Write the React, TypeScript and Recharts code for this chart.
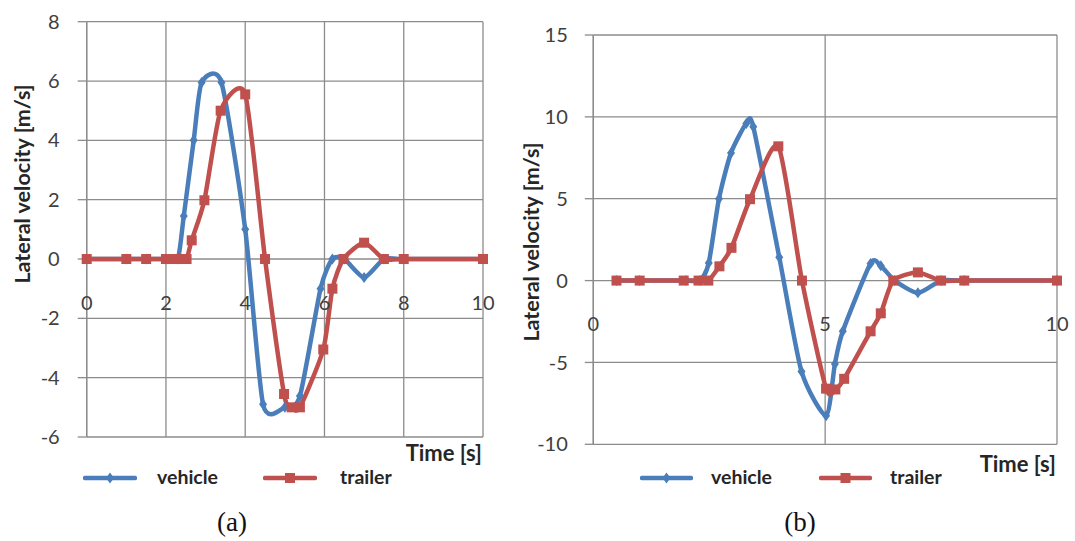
import React from 'react';
import { LineChart, Line, XAxis, YAxis, CartesianGrid, Legend } from 'recharts';

// panel (a)
const timeVehicleA = [0, 1, 1.5, 2, 2.3, 2.45, 2.7, 2.9, 3.4, 4, 4.45, 5, 5.38, 5.9, 6.2, 6.5, 7, 7.5, 8, 10];
const velVehicleA = [0, 0, 0, 0, 0, 1.45, 4, 5.95, 5.95, 1, -4.9, -5.0, -4.62, -1, 0, 0, -0.62, 0, 0, 0];
const timeTrailerA = [0, 1, 1.5, 2, 2.25, 2.4, 2.52, 2.65, 2.97, 3.38, 4, 4.5, 4.98, 5.17, 5.38, 5.97, 6.2, 6.48, 7, 7.5, 8, 10];
const velTrailerA = [0, 0, 0, 0, 0, 0, 0, 0.63, 1.98, 5, 5.55, 0, -4.55, -5, -5, -3.05, -1, 0, 0.55, 0, 0, 0];

// panel (b)
const timeVehicleB = [0.5, 1, 2, 2.3, 2.49, 2.71, 2.97, 3.3, 3.45, 4.01, 4.49, 5.02, 5.21, 5.38, 5.98, 6.2, 6.5, 7, 7.5, 8, 10];
const velVehicleB = [0, 0, 0, 0, 1.08, 5, 7.8, 9.6, 9.4, 1.43, -5.55, -8.25, -5.1, -3.1, 1.05, 0.9, 0, -0.75, 0, 0, 0];
const timeTrailerB = [0.5, 1, 1.95, 2.27, 2.48, 2.72, 2.98, 3.38, 3.99, 4.5, 5.02, 5.22, 5.41, 5.98, 6.2, 6.47, 7, 7.5, 8, 10];
const velTrailerB = [0, 0, 0, 0, 0, 0.87, 2, 4.97, 8.2, 0, -6.6, -6.65, -6, -3.1, -2, 0, 0.5, 0, 0, 0];

const xTicksA = [0, 2, 4, 6, 8, 10];
const yTicksA = [-6, -4, -2, 0, 2, 4, 6, 8];
const xTicksB = [0, 5, 10];
const yTicksB = [-10, -5, 0, 5, 10, 15];

const BLUE = '#4a7ebb';
const RED = '#c0504d';
const GRID = '#8c8c8c';
const TEXT = '#404040';
const DARK = '#262626';
const FONT = 'Lato, "Open Sans", sans-serif';

const zip = (ts: number[], vs: number[]) => ts.map((t, i) => ({ t, v: vs[i] }));

// smoothed line like Excel's, with a softer tangent so it overshoots less
function excelSmooth(context: any) {
  let pts: number[][] = [];
  const k = 1 / 9;
  return {
    areaStart() {},
    areaEnd() {},
    lineStart() { pts = []; },
    point(x: number, y: number) { pts.push([+x, +y]); },
    lineEnd() {
      if (!pts.length) return;
      context.moveTo(pts[0][0], pts[0][1]);
      for (let i = 0; i < pts.length - 1; i++) {
        const p0 = pts[i - 1] || pts[i];
        const p1 = pts[i];
        const p2 = pts[i + 1];
        const p3 = pts[i + 2] || p2;
        context.bezierCurveTo(
          p1[0] + (p2[0] - p0[0]) * k, p1[1] + (p2[1] - p0[1]) * k,
          p2[0] - (p3[0] - p1[0]) * k, p2[1] - (p3[1] - p1[1]) * k,
          p2[0], p2[1]
        );
      }
    },
  };
}

const diamondPath = (cx: number, cy: number) => `M${cx},${cy - 5.5}L${cx + 4},${cy}L${cx},${cy + 5.5}L${cx - 4},${cy}Z`;

const Diamond = (p: any) => {
  if (p.cx == null || p.cy == null) return <g key={p.index} />;
  return <path key={p.index} d={diamondPath(p.cx, p.cy)} fill={BLUE} />;
};

const Square = (p: any) => {
  if (p.cx == null || p.cy == null) return <g key={p.index} />;
  return <rect key={p.index} x={p.cx - 5} y={p.cy - 5} width={10} height={10} fill={RED} />;
};

function Panel(props: any) {
  const {
    left, width, height, plotLeft, plotRight, plotTop, plotBottom,
    xTicks, yTicks, vehicle, trailer, tickSize, tickGap, xLabelCenter,
    yTitleX, yTitleY, timeDy, legendPos, caption, captionX,
  } = props;
  const xAxisH = 30;
  const xDomain = [xTicks[0], xTicks[xTicks.length - 1]];
  const yDomain = [yTicks[0], yTicks[yTicks.length - 1]];

  const XTick = (p: any) => (
    <text x={p.x} y={xLabelCenter} dominantBaseline="central" textAnchor="middle" fontSize={20} fontFamily={FONT} fill={TEXT}>
      {p.payload.value}
    </text>
  );

  const TimeLabel = (p: any) => {
    const vb = p.viewBox;
    return (
      <text x={vb.x + vb.width - 1} y={vb.y + timeDy} dominantBaseline="central" textAnchor="end" fontSize={22} fontWeight="bold" fontFamily={FONT} fill={DARK}>
        Time [s]
      </text>
    );
  };

  const YTitle = () => (
    <text x={yTitleX} y={yTitleY} transform={`rotate(-90 ${yTitleX} ${yTitleY})`} dominantBaseline="central" textAnchor="middle" fontSize={21.5} fontWeight="bold" fontFamily={FONT} fill={DARK}>
      Lateral velocity [m/s]
    </text>
  );

  const renderLegend = (lp: any) => (
    <div style={{ position: 'relative', width, height: 40 }}>
      {(lp.payload || []).map((item: any) => {
        const pos = legendPos[item.value];
        const isVehicle = item.value === 'vehicle';
        return (
          <div key={item.value} style={{ position: 'absolute', left: pos.line, top: 0, height: 40 }}>
            <svg width={pos.lineW} height={40} style={{ position: 'absolute', left: 0, top: 0 }}>
              <line x1={2} y1={20} x2={pos.lineW - 2} y2={20} stroke={item.color} strokeWidth={4.5} strokeLinecap="round" />
              {isVehicle ? (
                <path d={diamondPath(pos.lineW / 2, 20)} fill={item.color} />
              ) : (
                <rect x={pos.lineW / 2 - 5} y={15} width={10} height={10} fill={item.color} />
              )}
            </svg>
            <span style={{ position: 'absolute', left: pos.text - pos.line, top: 7, fontFamily: FONT, fontWeight: 'bold', fontSize: 19.5, lineHeight: '24px', color: DARK, whiteSpace: 'nowrap' }}>
              {item.value}
            </span>
          </div>
        );
      })}
    </div>
  );

  return (
    <div style={{ position: 'absolute', left, top: 0, width, height }}>
      <LineChart
        width={width}
        height={height}
        margin={{ top: plotTop, right: width - plotRight, left: 0, bottom: height - plotBottom - xAxisH }}
      >
        <CartesianGrid stroke={GRID} strokeWidth={1.3} />
        <XAxis
          dataKey="t"
          type="number"
          domain={xDomain}
          ticks={xTicks}
          height={xAxisH}
          axisLine={false}
          tickLine={false}
          tickSize={0}
          tickMargin={0}
          tick={XTick}
          label={<TimeLabel />}
        />
        <YAxis
          type="number"
          domain={yDomain}
          ticks={yTicks}
          width={plotLeft}
          axisLine={{ stroke: GRID, strokeWidth: 1.3 }}
          tickLine={{ stroke: GRID, strokeWidth: 1.3 }}
          tickSize={tickSize}
          tickMargin={tickGap}
          tick={{ fontSize: 20, fill: TEXT, fontFamily: FONT }}
          label={<YTitle />}
        />
        <Legend
          verticalAlign="middle"
          align="center"
          layout="horizontal"
          wrapperStyle={{ left: 0, top: 458, width, height: 40 }}
          content={renderLegend}
        />
        <Line
          name="vehicle"
          data={vehicle}
          dataKey="v"
          type={excelSmooth as any}
          stroke={BLUE}
          strokeWidth={4.5}
          dot={Diamond}
          activeDot={false}
          isAnimationActive={false}
        />
        <Line
          name="trailer"
          data={trailer}
          dataKey="v"
          type={excelSmooth as any}
          stroke={RED}
          strokeWidth={4.5}
          dot={Square}
          activeDot={false}
          isAnimationActive={false}
        />
      </LineChart>
      <div style={{ position: 'absolute', left: captionX - 50, top: 506, width: 100, textAlign: 'center', fontFamily: '"Liberation Serif", "Times New Roman", serif', fontSize: 27, lineHeight: '32px', color: '#111' }}>
        {caption}
      </div>
    </div>
  );
}

export default function App() {
  return (
    <div style={{ position: 'absolute', left: 0, top: 0, width: 1075, height: 541, background: '#fff', overflow: 'hidden' }}>
      <Panel
        left={0}
        width={500}
        height={541}
        plotLeft={86.7}
        plotRight={483}
        plotTop={21.7}
        plotBottom={437}
        xTicks={xTicksA}
        yTicks={yTicksA}
        vehicle={zip(timeVehicleA, velVehicleA)}
        trailer={zip(timeTrailerA, velTrailerA)}
        tickSize={9}
        tickGap={18}
        xLabelCenter={301.7}
        yTitleX={22}
        yTitleY={184}
        timeDy={15}
        legendPos={{ vehicle: { line: 83, lineW: 54, text: 157 }, trailer: { line: 263, lineW: 54, text: 340 } }}
        caption="(a)"
        captionX={232}
      />
      <Panel
        left={516}
        width={559}
        height={541}
        plotLeft={77.3}
        plotRight={541}
        plotTop={35}
        plotBottom={444.3}
        xTicks={xTicksB}
        yTicks={yTicksB}
        vehicle={zip(timeVehicleB, velVehicleB)}
        trailer={zip(timeTrailerB, velTrailerB)}
        tickSize={8.5}
        tickGap={17}
        xLabelCenter={323}
        yTitleX={15}
        yTitleY={242}
        timeDy={19}
        legendPos={{ vehicle: { line: 124, lineW: 53, text: 195 }, trailer: { line: 303, lineW: 53, text: 374 } }}
        caption="(b)"
        captionX={284}
      />
    </div>
  );
}
